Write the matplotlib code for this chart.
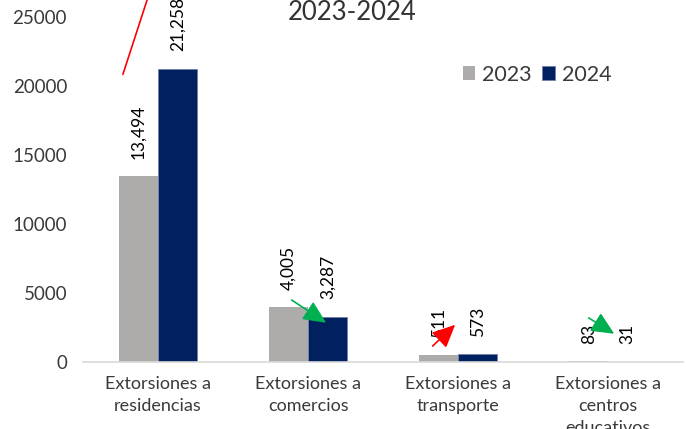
import matplotlib
matplotlib.use('Agg')
import matplotlib.pyplot as plt
import numpy as np

### DATA
CATEGORIES = ['Extorsiones a\nresidencias', 'Extorsiones a\ncomercios',
              'Extorsiones a\ntransporte', 'Extorsiones a\ncentros\neducativos']
VALUES_2023 = [13494, 4005, 511, 83]
VALUES_2024 = [21258, 3287, 573, 31]
YEARS = ['2023', '2024']
TITLE = '2023-2024'

### STYLE
C_2023 = '#AEABAB'
C_2024 = '#002060'
TXT = '#3A3A3A'
plt.rcParams['font.family'] = ['Lato', 'DejaVu Sans']


def run():
    fig = plt.figure(figsize=(6.86, 4.29), dpi=100)
    ax = fig.add_axes([0.121, 0.156, 0.875, 0.844])

    x = np.arange(len(CATEGORIES))
    w = 0.26
    ax.bar(x - w / 2, VALUES_2023, width=w, color=C_2023, label=YEARS[0])
    ax.bar(x + w / 2, VALUES_2024, width=w, color=C_2024, label=YEARS[1],
           edgecolor='#6F7FA8', linewidth=0.6)

    # value labels, rotated
    for xi, v in zip(x - w / 2, VALUES_2023):
        ax.text(xi, v + 1250, f'{v:,}', rotation=90, ha='center', va='bottom',
                fontsize=12.5, color='black', clip_on=False)
    for xi, v in zip(x + w / 2, VALUES_2024):
        ax.text(xi, v + 1250, f'{v:,}', rotation=90, ha='center', va='bottom',
                fontsize=12.5, color='black', clip_on=False)

    # trend arrows
    head = '-|>,head_length=1.4,head_width=0.65'
    ax.annotate('', xy=(-0.02, 28000), xytext=(-0.24, 20650),
                arrowprops=dict(arrowstyle='-', color='red', lw=1.2),
                annotation_clip=False)
    ax.annotate('', xy=(1.98, 2700), xytext=(1.83, 1160),
                arrowprops=dict(arrowstyle=head, color='red', lw=1.2,
                                shrinkA=0, shrinkB=0))
    ax.annotate('', xy=(1.12, 2850), xytext=(0.89, 4500),
                arrowprops=dict(arrowstyle=head, color='#00B050', lw=1.2,
                                shrinkA=0, shrinkB=0))
    ax.annotate('', xy=(3.04, 2050), xytext=(2.87, 3200),
                arrowprops=dict(arrowstyle=head, color='#00B050', lw=1.2,
                                shrinkA=0, shrinkB=0))

    ax.set_xlim(-0.5, len(CATEGORIES) - 0.5)
    ax.set_ylim(0, 26232)
    ax.set_yticks(np.arange(0, 25001, 5000))
    ax.set_xticks(x)
    ax.set_xticklabels(CATEGORIES, fontsize=13, color=TXT, linespacing=1.45, va='top')
    ax.tick_params(axis='y', labelsize=13.5, labelcolor=TXT, length=0, pad=11.5)
    ax.tick_params(axis='x', length=0, pad=10)
    for s in ['top', 'right', 'left']:
        ax.spines[s].set_visible(False)
    ax.spines['bottom'].set_color('#D9D9D9')
    ax.spines['bottom'].set_linewidth(1.2)

    fig.text(0.513, 0.972, TITLE, ha='center', va='center', fontsize=18.5,
             color='#333333')
    ax.legend(loc='upper left', bbox_to_anchor=(0.6, 0.875), ncol=2, frameon=False,
              fontsize=15.5, handlelength=0.6, handleheight=0.6, handletextpad=0.3,
              columnspacing=0.5, labelcolor=TXT)

    fig.savefig('out.png', dpi=100)


if __name__ == '__main__':
    run()
